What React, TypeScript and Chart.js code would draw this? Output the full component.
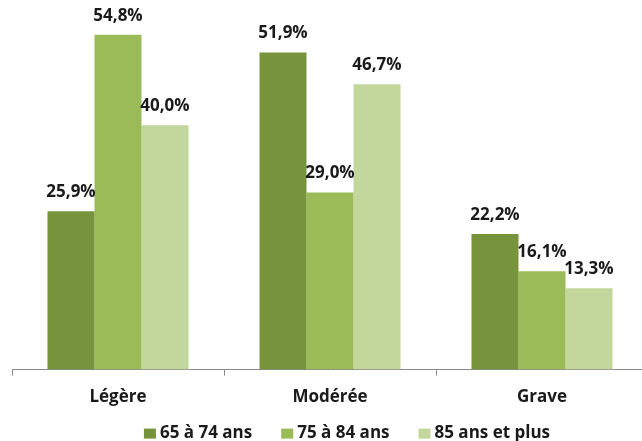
import React, { useEffect, useRef } from "react";
import { Chart, registerables } from "chart.js";

Chart.register(...registerables);

const categories = ["Légère", "Modérée", "Grave"];
const seriesNames = ["65 à 74 ans", "75 à 84 ans", "85 ans et plus"];
const age65to74 = [25.9, 51.9, 22.2];
const age75to84 = [54.8, 29.0, 16.1];
const age85plus = [40.0, 46.7, 13.3];
const seriesColors = ["#77933C", "#9BBB59", "#C3D69B"];

const FONT = "'Open Sans', Lato, sans-serif";
const TEXT_COLOR = "#1a1a1a";

const valueLabels = {
  id: "valueLabels",
  afterDatasetsDraw(chart: any) {
    const ctx = chart.ctx;
    ctx.save();
    ctx.font = `bold 17px ${FONT}`;
    ctx.fillStyle = TEXT_COLOR;
    ctx.textAlign = "center";
    ctx.textBaseline = "alphabetic";
    chart.data.datasets.forEach((ds: any, i: number) => {
      const meta = chart.getDatasetMeta(i);
      meta.data.forEach((bar: any, j: number) => {
        const v = ds.data[j] as number;
        ctx.fillText(v.toFixed(1).replace(".", ",") + "%", bar.x, bar.y - 14);
      });
    });
    ctx.restore();
  },
};

const bottomLegend = {
  id: "bottomLegend",
  afterDraw(chart: any) {
    const ctx = chart.ctx;
    ctx.save();
    ctx.font = `bold 17px ${FONT}`;
    ctx.textBaseline = "middle";
    ctx.textAlign = "left";
    const boxW = 12;
    const boxH = 10;
    const boxGap = 4;
    const itemGap = 29;
    const items = chart.data.datasets.map((ds: any) => ({
      label: ds.label as string,
      color: ds.backgroundColor as string,
      w: ctx.measureText(ds.label).width,
    }));
    const total =
      items.reduce((s: number, it: any) => s + boxW + boxGap + it.w, 0) +
      itemGap * (items.length - 1);
    let x = chart.width / 2 - total / 2;
    const y = chart.chartArea.bottom + 64;
    items.forEach((it: any) => {
      ctx.fillStyle = it.color;
      ctx.fillRect(x, y - boxH / 2, boxW, boxH);
      ctx.fillStyle = TEXT_COLOR;
      ctx.fillText(it.label, x + boxW + boxGap, y);
      x += boxW + boxGap + it.w + itemGap;
    });
    ctx.restore();
  },
};

export default function App() {
  const ref = useRef<HTMLCanvasElement | null>(null);
  useEffect(() => {
    if (!ref.current) return;
    const seriesData = [age65to74, age75to84, age85plus];
    const chart = new Chart(ref.current, {
      type: "bar",
      data: {
        labels: categories,
        datasets: seriesNames.map((name, i) => ({
          label: name,
          data: seriesData[i],
          backgroundColor: seriesColors[i],
          borderWidth: 0,
          categoryPercentage: 0.665,
          barPercentage: 1.0,
        })),
      },
      options: {
        animation: false,
        responsive: true,
        maintainAspectRatio: false,
        layout: { padding: { left: 12, right: 46, top: 3, bottom: 23 } },
        scales: {
          y: { display: false, min: 0, max: 60 },
          x: {
            border: { display: true, color: "#8a8a8a", width: 1 },
            grid: {
              display: true,
              offset: true,
              drawOnChartArea: false,
              drawTicks: true,
              tickLength: 6,
              color: "#8a8a8a",
            },
            ticks: {
              color: TEXT_COLOR,
              font: { family: FONT, size: 17, weight: "bold" },
              padding: 11,
            },
          },
        },
        plugins: {
          legend: { display: false },
          tooltip: { enabled: false },
        },
      },
      plugins: [valueLabels, bottomLegend],
    });
    return () => chart.destroy();
  }, []);
  return (
    <div
      style={{
        position: "fixed",
        left: 0,
        top: 0,
        width: 642,
        height: 441,
        overflow: "hidden",
        background: "#ffffff",
      }}
    >
      <div style={{ position: "relative", width: 694, height: 441 }}>
        <canvas ref={ref} />
      </div>
    </div>
  );
}
